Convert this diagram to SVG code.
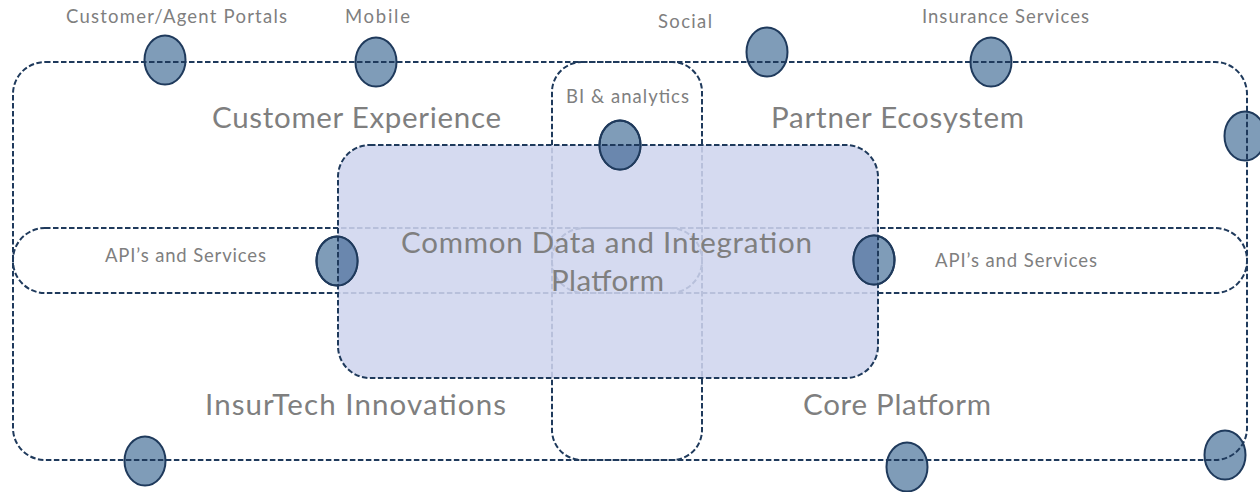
<svg xmlns="http://www.w3.org/2000/svg" width="1260" height="492" viewBox="0 0 1260 492">
<style>
.dash{fill:none;stroke:#1f3a5c;stroke-width:2;stroke-dasharray:5.5 2.5}
.node{fill:#7f9cb8;stroke:#1f3a5c;stroke-width:2}
.nodeIn{fill:#6a87ae;stroke:none}
.nodeRim{fill:none;stroke:#1f3a5c;stroke-width:2}
.sm{font-family:Lato,"Liberation Sans",sans-serif;font-size:18.5px;fill:#7f7f7f;text-anchor:middle}
.lg{font-family:Lato,"Liberation Sans",sans-serif;font-size:29.5px;fill:#7f7f7f;text-anchor:middle}
</style>
<defs>
<clipPath id="commonClip"><rect x="338" y="145" width="540" height="233" rx="32"/></clipPath>
</defs>
<rect width="1260" height="492" fill="#ffffff"/>

<g id="outer-nodes">
<g id="node-portals"><ellipse class="node" cx="165" cy="60" rx="20.5" ry="24.5"/></g>
<g id="node-mobile"><ellipse class="node" cx="376" cy="62" rx="20.5" ry="24.5"/></g>
<g id="node-social"><ellipse class="node" cx="767" cy="52" rx="20.5" ry="24.5"/></g>
<g id="node-insurance"><ellipse class="node" cx="991" cy="62" rx="20.5" ry="24.5"/></g>
<g id="node-right"><ellipse class="node" cx="1245" cy="136" rx="20.5" ry="24.5"/></g>
<g id="node-bottom-left"><ellipse class="node" cx="145" cy="461" rx="20.5" ry="24.5"/></g>
<g id="node-bottom-mid"><ellipse class="node" cx="907" cy="467" rx="20.5" ry="24.5"/></g>
<g id="node-bottom-right"><ellipse class="node" cx="1225" cy="455" rx="20.5" ry="24.5"/></g>
</g>

<g id="connectors">
<rect class="dash" x="13" y="62" width="1234" height="398" rx="32"/>
<rect class="dash" x="552" y="62" width="150" height="398" rx="30"/>
<rect class="dash" x="13" y="228" width="689" height="65" rx="32"/>
<rect class="dash" x="552" y="228" width="695" height="65" rx="32"/>
</g>

<g id="common-platform">
<rect x="338" y="145" width="540" height="233" rx="32" fill="#cfd4ee" fill-opacity="0.87"/>
</g>

<g id="inner-nodes">
<g id="node-bi">
<ellipse class="node" cx="620" cy="145" rx="20.5" ry="24.5"/>
<ellipse class="nodeIn" cx="620" cy="145" rx="20.5" ry="24.5" clip-path="url(#commonClip)"/>
<ellipse class="nodeRim" cx="620" cy="145" rx="20.5" ry="24.5"/>
</g>
<g id="node-api-left">
<ellipse class="node" cx="337" cy="261" rx="20.5" ry="24.5"/>
<ellipse class="nodeIn" cx="337" cy="261" rx="20.5" ry="24.5" clip-path="url(#commonClip)"/>
<ellipse class="nodeRim" cx="337" cy="261" rx="20.5" ry="24.5"/>
</g>
<g id="node-api-right">
<ellipse class="node" cx="874" cy="260" rx="20.5" ry="24.5"/>
<ellipse class="nodeIn" cx="874" cy="260" rx="20.5" ry="24.5" clip-path="url(#commonClip)"/>
<ellipse class="nodeRim" cx="874" cy="260" rx="20.5" ry="24.5"/>
</g>
</g>

<g id="common-border">
<rect class="dash" x="338" y="145" width="540" height="233" rx="32"/>
</g>

<g id="labels">
<text class="sm" x="176.5" y="23" textLength="221">Customer/Agent Portals</text>
<text class="sm" x="377.5" y="23" textLength="65">Mobile</text>
<text class="sm" x="685" y="28" textLength="54">Social</text>
<text class="sm" x="1005.5" y="23" textLength="167">Insurance Services</text>
<text class="sm" x="627.5" y="103" textLength="123">BI &amp; analytics</text>
<text class="sm" x="185.5" y="262" textLength="161">API’s and Services</text>
<text class="sm" x="1016" y="267" textLength="162">API’s and Services</text>
<text class="lg" x="356.5" y="128" textLength="289">Customer Experience</text>
<text class="lg" x="897.5" y="128" textLength="253">Partner Ecosystem</text>
<text class="lg" x="606.5" y="253" textLength="411">Common Data and Integration</text>
<text class="lg" x="607.5" y="291" textLength="113">Platform</text>
<text class="lg" x="355.5" y="415" textLength="301">InsurTech Innovations</text>
<text class="lg" x="897" y="415" textLength="188">Core Platform</text>
</g>
</svg>
